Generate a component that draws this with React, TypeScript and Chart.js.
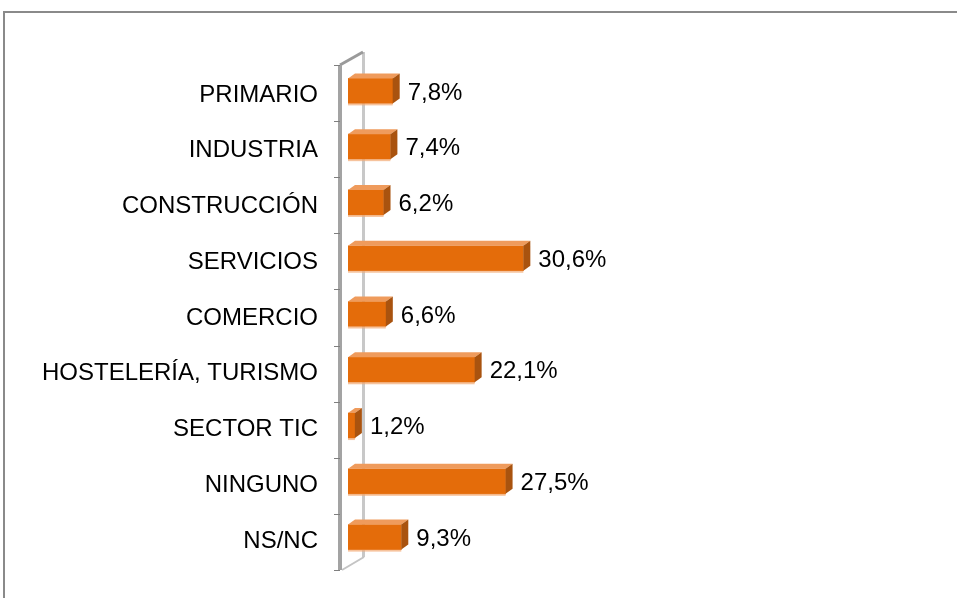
import React, { useEffect, useRef } from "react";
import { Chart, registerables } from "chart.js";

Chart.register(...registerables);

const categories = [
  "PRIMARIO",
  "INDUSTRIA",
  "CONSTRUCCIÓN",
  "SERVICIOS",
  "COMERCIO",
  "HOSTELERÍA, TURISMO",
  "SECTOR TIC",
  "NINGUNO",
  "NS/NC",
];
const values = [7.8, 7.4, 6.2, 30.6, 6.6, 22.1, 1.2, 27.5, 9.3];

const FONT = "'Liberation Sans', Arial, sans-serif";
const FRONT = "#E46C0A";
const TOP = "#EF9B5C";
const SIDE = "#A9530F";
const DX = 7;
const DY = -5;

const fmt = (v: number) => v.toFixed(1).replace(".", ",") + "%";

const wallPlugin = {
  id: "wall3d",
  beforeDatasetsDraw(chart: any) {
    const { ctx, chartArea, scales } = chart;
    const y = scales.y;
    const n = categories.length;
    const band = y.getPixelForValue(1) - y.getPixelForValue(0);
    const top = y.getPixelForValue(0) - band / 2 + 2;
    const bottom = y.getPixelForValue(n - 1) + band / 2 + 5;
    const L = chartArea.left;
    ctx.save();
    // back edge of wall
    ctx.fillStyle = "#c8c8c8";
    ctx.fillRect(L + 14, top - 13, 3, bottom - top);
    // top diagonal
    ctx.strokeStyle = "#9a9a9a";
    ctx.lineWidth = 3;
    ctx.beginPath();
    ctx.moveTo(L - 8, top);
    ctx.lineTo(L + 15, top - 13);
    ctx.stroke();
    // bottom diagonal
    ctx.strokeStyle = "#c4c4c4";
    ctx.lineWidth = 2;
    ctx.beginPath();
    ctx.moveTo(L - 6, bottom);
    ctx.lineTo(L + 16, bottom - 13);
    ctx.stroke();
    // front edge
    ctx.fillStyle = "#a3a3a3";
    ctx.fillRect(L - 10, top, 4, bottom - top);
    // ticks
    ctx.strokeStyle = "#7f7f7f";
    ctx.lineWidth = 1;
    for (let i = 0; i <= n; i++) {
      const ty = Math.round(top + ((bottom - top) * i) / n) + 0.5;
      ctx.beginPath();
      ctx.moveTo(L - 14, ty);
      ctx.lineTo(L - 8, ty);
      ctx.stroke();
    }
    ctx.restore();
  },
  afterDatasetsDraw(chart: any) {
    const { ctx } = chart;
    const meta = chart.getDatasetMeta(0);
    ctx.save();
    meta.data.forEach((el: any, i: number) => {
      const x = el.x;
      const base = el.base;
      const h = el.height;
      const t = el.y - h / 2;
      const b = el.y + h / 2;
      // lower light edge
      ctx.fillStyle = "rgba(242,170,115,0.7)";
      ctx.fillRect(base, b, x - base, 2);
      // top face
      ctx.fillStyle = TOP;
      ctx.beginPath();
      ctx.moveTo(base, t);
      ctx.lineTo(base + DX, t + DY);
      ctx.lineTo(x + DX, t + DY);
      ctx.lineTo(x, t);
      ctx.closePath();
      ctx.fill();
      // side face
      ctx.fillStyle = SIDE;
      ctx.beginPath();
      ctx.moveTo(x, t);
      ctx.lineTo(x + DX, t + DY);
      ctx.lineTo(x + DX, b + DY);
      ctx.lineTo(x, b);
      ctx.closePath();
      ctx.fill();
      // value label
      ctx.fillStyle = "#000";
      ctx.font = `24px ${FONT}`;
      ctx.textAlign = "left";
      ctx.textBaseline = "middle";
      ctx.fillText(fmt(values[i]), x + DX + 8, el.y + 2);
    });
    ctx.restore();
  },
};

export default function App() {
  const ref = useRef<HTMLCanvasElement | null>(null);
  useEffect(() => {
    if (!ref.current) return;
    const chart = new Chart(ref.current, {
      type: "bar",
      data: {
        labels: categories,
        datasets: [
          {
            data: values,
            backgroundColor: FRONT,
            borderWidth: 0,
            barThickness: 25,
          },
        ],
      },
      options: {
        indexAxis: "y",
        animation: false,
        responsive: false,
        devicePixelRatio: 1,
        layout: { padding: { left: 0, right: 36, top: 63, bottom: 33 } },
        plugins: {
          legend: { display: false },
          tooltip: { enabled: false },
        },
        scales: {
          x: {
            display: false,
            min: 0,
            max: 100,
          },
          y: {
            afterFit(scale: any) {
              scale.width = 348;
              scale.paddingTop = 0;
              scale.paddingBottom = 0;
            },
            grid: { display: false, drawTicks: false },
            border: { display: false },
            ticks: {
              padding: 30,
              labelOffset: 4,
              color: "#000",
              font: { family: FONT, size: 24 },
            },
          },
        },
      },
      plugins: [wallPlugin],
    } as any);
    return () => chart.destroy();
  }, []);
  return (
    <div style={{ position: "fixed", left: 0, top: 0, width: 957, height: 598, background: "#fff", overflow: "hidden" }}>
      <div
        style={{
          position: "absolute",
          left: 3,
          top: 11,
          width: 1000,
          height: 700,
          borderTop: "2px solid #8a8a8a",
          borderLeft: "2px solid #8a8a8a",
        }}
      />
      <canvas ref={ref} width={957} height={598} style={{ position: "absolute", left: 0, top: 0 }} />
    </div>
  );
}
